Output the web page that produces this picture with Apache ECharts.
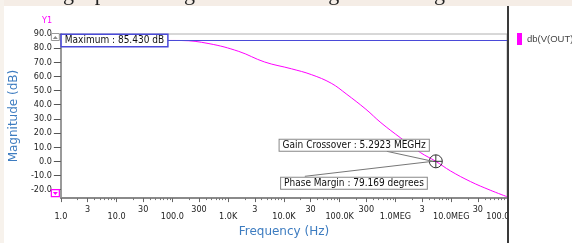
<!DOCTYPE html>
<html>
<head>
<meta charset="utf-8">
<script src="https://cdn.jsdelivr.net/npm/echarts@6/dist/echarts.min.js"></script>
<style>
  html, body { margin: 0; padding: 0; background: #fff; }
  #chart { width: 572px; height: 243px; }
</style>
</head>
<body>
<div id="chart"></div>
<script>
// Bode magnitude, db(V(OUT)) vs frequency
const freqHz = [1, 100, 143, 453, 1550, 4510, 13650, 31000, 70500, 130600, 295000, 549000, 1.25e6, 2.83e6, 5.2923e6, 9.7e6, 2.21e7, 5.0e7, 1e8];
const magDb = [85.43, 85.43, 85.4, 83.2, 77.7, 70.2, 65.4, 61.3, 55.2, 47.7, 36.8, 27.3, 16.4, 6.1, 0, -6.8, -14.3, -20.4, -25.0];
const maxDb = 85.43;
const crossoverHz = 5.2923e6;
const decadeTicks = [1, 10, 100, 1e3, 1e4, 1e5, 1e6, 1e7, 1e8];
const decadeLabels = ['1.0', '10.0', '100.0', '1.0K', '10.0K', '100.0K', '1.0MEG', '10.0MEG', '100.0MEG'];
const thirdTicks = [3, 30, 300, 3e3, 3e4, 3e5, 3e6, 3e7];
const thirdLabels = ['3', '30', '300', '3', '30', '300', '3', '30'];
const yTicks = [-20, -10, 0, 10, 20, 30, 40, 50, 60, 70, 80, 90];

const lg = Math.log10;
const minorTicks = [];
for (let d = 0; d < 8; d++) {
  [2, 4, 5, 6, 7, 8, 9].forEach(m => minorTicks.push(d + lg(m)));
}

const pickLabel = (ticks, labels) => v => {
  const i = ticks.findIndex(t => Math.abs(lg(t) - v) < 1e-6);
  return i < 0 ? '' : labels[i];
};

const smallFont = '"Liberation Sans Narrow", "DejaVu Sans Condensed", sans-serif';
const boxFont = '"DejaVu Sans Condensed", "DejaVu Sans", sans-serif';
const blue = '#3d7cc0';

const chart = echarts.init(document.getElementById('chart'));

const baseX = {
  type: 'value', min: 0, max: 8, gridIndex: 0, position: 'bottom',
  splitLine: { show: false }
};

chart.setOption({
  animation: false,
  backgroundColor: '#fff',
  grid: {
    left: 58, right: 65, top: 34, bottom: 39,
    show: true, borderColor: '#b0b0b0', borderWidth: 1
  },
  legend: {
    left: 512, top: 28, orient: 'vertical',
    icon: 'rect', itemWidth: 5, itemHeight: 12, itemGap: 4,
    textStyle: { fontSize: 9.5, color: '#444', fontFamily: 'Liberation Sans' },
    data: ['db(V(OUT))'],
    z: 10
  },
  xAxis: [
    Object.assign({}, baseX, {
      name: 'Frequency (Hz)', nameLocation: 'middle', nameGap: 26,
      nameTextStyle: { color: blue, fontSize: 12, fontFamily: 'DejaVu Sans' },
      axisLine: { onZero: false, lineStyle: { color: '#8a8a8a', width: 2 } },
      axisTick: { customValues: decadeTicks.map(lg), length: 4, lineStyle: { color: '#666' } },
      axisLabel: {
        customValues: decadeTicks.map(lg), formatter: pickLabel(decadeTicks, decadeLabels),
        margin: 14, fontSize: 9, color: '#222', fontFamily: smallFont, showMaxLabel: true
      }
    }),
    Object.assign({}, baseX, {
      axisLine: { show: false, onZero: false },
      axisTick: { customValues: thirdTicks.map(lg), length: 4, lineStyle: { color: '#666' } },
      axisLabel: {
        customValues: thirdTicks.map(lg), formatter: pickLabel(thirdTicks, thirdLabels),
        margin: 7, fontSize: 9, color: '#222', fontFamily: smallFont
      }
    }),
    Object.assign({}, baseX, {
      axisLine: { show: false, onZero: false },
      axisTick: { customValues: minorTicks, length: 2, lineStyle: { color: '#777' } },
      axisLabel: { show: false }
    })
  ],
  yAxis: {
    type: 'value', min: -26, max: 90,
    name: 'Magnitude (dB)', nameLocation: 'middle', nameGap: 38, nameRotate: 90,
    nameTextStyle: { color: blue, fontSize: 12, fontFamily: 'DejaVu Sans' },
    splitLine: { show: false },
    axisLine: { show: true, onZero: false, lineStyle: { color: '#9a9a9a', width: 2 } },
    axisTick: { customValues: yTicks, length: 7, lineStyle: { color: '#555' } },
    axisLabel: {
      customValues: yTicks, formatter: v => v.toFixed(1),
      margin: 9, fontSize: 9, color: '#222', fontFamily: smallFont
    }
  },
  series: [
    {
      name: 'db(V(OUT))', type: 'line', xAxisIndex: 0,
      data: freqHz.map((f, i) => [lg(f), magDb[i]]),
      showSymbol: false, smooth: 0.4,
      lineStyle: { color: '#ff00ff', width: 1 },
      itemStyle: { color: '#ff00ff' },
      z: 2,
      markPoint: {
        symbol: 'path://M0,6 A6,6 0 1,1 12,6 A6,6 0 1,1 0,6 Z M6,0 L6,12 M0,6 L12,6',
        symbolSize: 13,
        label: { show: false },
        itemStyle: { color: 'rgba(0,0,0,0)', borderColor: '#333', borderWidth: 1 },
        data: [{ coord: [lg(crossoverHz), 0] }]
      }
    },
    {
      name: 'maxline', type: 'line', xAxisIndex: 0, data: [], z: 3,
      markLine: {
        silent: true, symbol: 'none', label: { show: false },
        lineStyle: { color: '#4a4ad8', width: 1, type: 'solid' },
        data: [{ yAxis: maxDb }]
      }
    }
  ]
});

const mp = chart.convertToPixel({ gridIndex: 0 }, [0, maxDb]);
const cp = chart.convertToPixel({ gridIndex: 0 }, [lg(crossoverHz), 0]);
const g0 = chart.convertToPixel({ gridIndex: 0 }, [0, 90]);
const g1 = chart.convertToPixel({ gridIndex: 0 }, [8, -26]);

const boxStyle = (text, border) => ({
  text: text, fill: '#111', font: '10px ' + boxFont,
  backgroundColor: '#fff', borderColor: border, borderWidth: 1, padding: [1, 3, 0, 3]
});

chart.setOption({
  graphic: [
    // page background strips around the screenshot
    { type: 'rect', shape: { x: 0, y: 0, width: 572, height: 6 }, style: { fill: '#f5ede6' }, z: 1 },
    { type: 'rect', shape: { x: 0, y: 0, width: 4, height: 243 }, style: { fill: '#f7f2ec' }, z: 1 },
    { type: 'text', x: 14, y: -17, style: { text: 'having a phase margin of 79.169 degrees at the gain crossover', font: '22px "Liberation Serif", serif', fill: '#222' }, z: 1 },
    // right panel
    { type: 'rect', shape: { x: g1[0] + 2, y: 6, width: 80, height: 237 }, style: { fill: '#fff' }, z: 8 },
    { type: 'line', shape: { x1: g1[0] + 1, y1: 6, x2: g1[0] + 1, y2: 243 }, style: { stroke: '#3a3a3a', lineWidth: 2 }, z: 9 },
    // Y1 label and scroll markers
    { type: 'text', x: 42, y: 16, style: { text: 'Y1', font: '9px ' + smallFont, fill: '#ff00ff' }, z: 9 },
    { type: 'rect', shape: { x: g0[0] - 9.5, y: g0[1] - 0.5, width: 8, height: 7 }, style: { fill: '#fff', stroke: '#999', lineWidth: 1 }, z: 9 },
    { type: 'polygon', shape: { points: [[g0[0] - 8, g0[1] + 5], [g0[0] - 3, g0[1] + 5], [g0[0] - 5.5, g0[1] + 2]] }, style: { fill: '#888' }, z: 9 },
    { type: 'rect', shape: { x: g0[0] - 9.5, y: g1[1] - 8.5, width: 8, height: 7 }, style: { fill: '#fff', stroke: '#ff00ff', lineWidth: 1.2 }, z: 9 },
    { type: 'polygon', shape: { points: [[g0[0] - 8, g1[1] - 6], [g0[0] - 3, g1[1] - 6], [g0[0] - 5.5, g1[1] - 3]] }, style: { fill: '#ff00ff' }, z: 9 },
    // annotations
    { type: 'text', x: mp[0] + 1, y: mp[1], style: Object.assign(boxStyle('Maximum : 85.430 dB', '#4a4ad8'), { verticalAlign: 'middle', borderWidth: 1.5 }), z: 9 },
    { type: 'line', shape: { x1: cp[0] - 49, y1: cp[1] - 10, x2: cp[0] - 3, y2: cp[1] }, style: { stroke: '#777', lineWidth: 1 }, z: 7 },
    { type: 'line', shape: { x1: cp[0] - 131, y1: cp[1] + 15, x2: cp[0] - 3, y2: cp[1] }, style: { stroke: '#777', lineWidth: 1 }, z: 7 },
    { type: 'text', x: cp[0] - 7, y: cp[1] - 16, style: Object.assign(boxStyle('Gain Crossover : 5.2923 MEGHz', '#888'), { align: 'right', verticalAlign: 'middle' }), z: 9 },
    { type: 'text', x: cp[0] - 9, y: cp[1] + 22, style: Object.assign(boxStyle('Phase Margin : 79.169 degrees', '#888'), { align: 'right', verticalAlign: 'middle' }), z: 9 }
  ]
});
</script>
</body>
</html>
